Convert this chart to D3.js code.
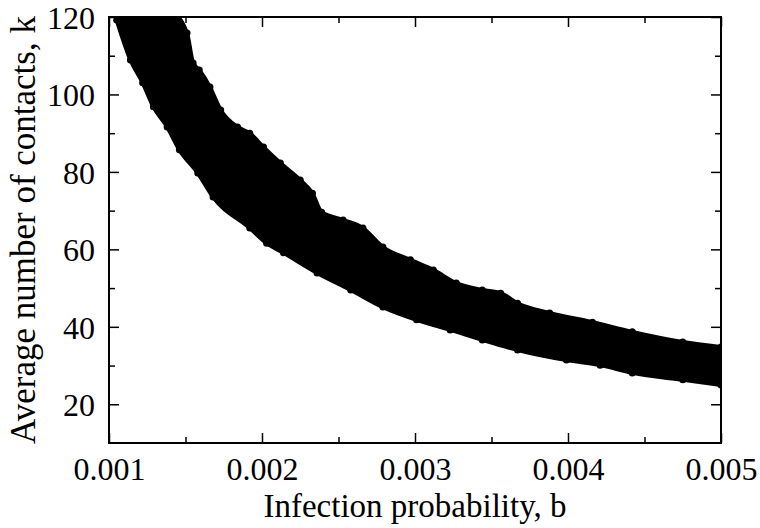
<!DOCTYPE html>
<html>
<head>
<meta charset="utf-8">
<script src="https://cdn.jsdelivr.net/npm/d3@7/dist/d3.min.js"></script>
<style>
  html, body { margin: 0; padding: 0; background: #fff; }
  svg { display: block; }
  text { font-family: "Liberation Serif", "DejaVu Serif", serif; fill: #000; }
</style>
</head>
<body>
<svg id="chart" width="760" height="528"></svg>
<script>
// Upper edge of the point cloud (b, k)
const upperB = [0.00105, 0.00141, 0.00151, 0.00155, 0.00159, 0.00166, 0.00173, 0.00184, 0.00192, 0.00201, 0.00212, 0.00225, 0.00233, 0.00239, 0.00253, 0.00266, 0.00279, 0.00297, 0.00312, 0.00327, 0.00344, 0.00356, 0.00367, 0.00388, 0.00416, 0.00442, 0.00475, 0.00500];
const upperK = [121, 121, 115.9, 108.1, 106.3, 101.9, 96.0, 91.6, 90.0, 86.4, 82.3, 77.9, 74.5, 69.6, 67.6, 65.5, 60.6, 57.3, 54.7, 51.3, 49.5, 48.7, 46.1, 43.6, 41.2, 38.7, 36.1, 34.8];
// Lower edge of the point cloud (b, k)
const lowerB = [0.00105, 0.00114, 0.00122, 0.00129, 0.00138, 0.00146, 0.00158, 0.00168, 0.00192, 0.00203, 0.00214, 0.00236, 0.00258, 0.00279, 0.00301, 0.00323, 0.00344, 0.00367, 0.00399, 0.00421, 0.00442, 0.00475, 0.00500];
const lowerK = [119.2, 108.9, 103.0, 96.8, 91.6, 85.7, 79.7, 73.5, 65.5, 61.6, 59.1, 53.9, 49.5, 45.1, 41.8, 39.2, 36.6, 34.0, 31.4, 30.1, 28.1, 26.3, 25.0];

const xTicks = [0.001, 0.002, 0.003, 0.004, 0.005];
const xTickLabels = ["0.001", "0.002", "0.003", "0.004", "0.005"];
const xMinor = [0.0015, 0.0025, 0.0035, 0.0045];
const yTicks = [20, 40, 60, 80, 100, 120];
const yTickLabels = ["20", "40", "60", "80", "100", "120"];
const yMinor = [30, 50, 70, 90, 110];
const xTitle = "Infection probability, b";
const yTitle = "Average number of contacts, k";

const L = 109, R = 721, T = 17, B = 443;
const FONT = "'Liberation Serif', 'DejaVu Serif', serif";
const svg = d3.select("#chart");
const x = d3.scaleLinear().domain([0.001, 0.005]).range([L, R]);
const y = d3.scaleLinear().domain([10, 120]).range([B, T]);

svg.append("defs").append("clipPath").attr("id", "plotclip")
  .append("rect").attr("x", L).attr("y", T).attr("width", R - L).attr("height", B - T);

const g = svg.append("g").attr("clip-path", "url(#plotclip)");

const upper = upperB.map((b, i) => [b, upperK[i]]);
const lower = lowerB.map((b, i) => [b, lowerK[i]]);

const curve = d3.line().x(d => x(d[0])).y(d => y(d[1])).curve(d3.curveMonotoneX);
const upPath = curve(upper);
const lowPath = curve(lower.slice().reverse()).replace(/^M/, "L");

g.append("path")
  .attr("d", upPath + lowPath + "Z")
  .attr("fill", "#000")
  .attr("stroke", "#000")
  .attr("stroke-width", 4)
  .attr("stroke-linejoin", "round");

g.selectAll("circle.edge")
  .data(upper.concat(lower))
  .join("circle")
  .attr("class", "edge")
  .attr("cx", d => x(d[0]))
  .attr("cy", d => y(d[1]))
  .attr("r", 3.5)
  .attr("fill", "#000");

// Axes (ticks inward, mirrored on all sides)
const maj = 10, mn = 6;
const axB = svg.append("g").attr("transform", `translate(0,${B})`)
  .call(d3.axisBottom(x).tickValues(xTicks).tickSize(-maj).tickFormat((d, i) => xTickLabels[i]));
svg.append("g").attr("transform", `translate(0,${B})`)
  .call(d3.axisBottom(x).tickValues(xMinor).tickSize(-mn).tickFormat(""));
svg.append("g").attr("transform", `translate(0,${T})`)
  .call(d3.axisTop(x).tickValues(xTicks).tickSize(-maj).tickFormat(""));
svg.append("g").attr("transform", `translate(0,${T})`)
  .call(d3.axisTop(x).tickValues(xMinor).tickSize(-mn).tickFormat(""));
const axL = svg.append("g").attr("transform", `translate(${L},0)`)
  .call(d3.axisLeft(y).tickValues(yTicks).tickSize(-maj).tickFormat((d, i) => yTickLabels[i]));
svg.append("g").attr("transform", `translate(${L},0)`)
  .call(d3.axisLeft(y).tickValues(yMinor).tickSize(-mn).tickFormat(""));
svg.append("g").attr("transform", `translate(${R},0)`)
  .call(d3.axisRight(y).tickValues(yTicks).tickSize(-maj).tickFormat(""));
svg.append("g").attr("transform", `translate(${R},0)`)
  .call(d3.axisRight(y).tickValues(yMinor).tickSize(-mn).tickFormat(""));

svg.selectAll(".domain").remove();
svg.selectAll("g").attr("font-family", FONT);
svg.selectAll(".tick line").attr("stroke", "#000").attr("stroke-width", 1.5);

axB.selectAll(".tick text")
  .attr("y", 37).attr("dy", 0)
  .attr("font-family", FONT)
  .style("font-size", "32px");
axL.selectAll(".tick text")
  .attr("x", -14).attr("dy", "0.35em")
  .attr("font-family", FONT)
  .style("font-size", "32px");

svg.append("rect")
  .attr("x", L).attr("y", T).attr("width", R - L).attr("height", B - T)
  .attr("fill", "none").attr("stroke", "#000").attr("stroke-width", 2);

svg.append("text")
  .attr("x", (L + R) / 2).attr("y", 517)
  .attr("text-anchor", "middle")
  .attr("font-family", FONT)
  .style("font-size", "33px")
  .text(xTitle);

svg.append("text")
  .attr("transform", `translate(35,${(T + B) / 2}) rotate(-90)`)
  .attr("text-anchor", "middle")
  .attr("font-family", FONT)
  .style("font-size", "35px")
  .text(yTitle);
</script>
</body>
</html>
